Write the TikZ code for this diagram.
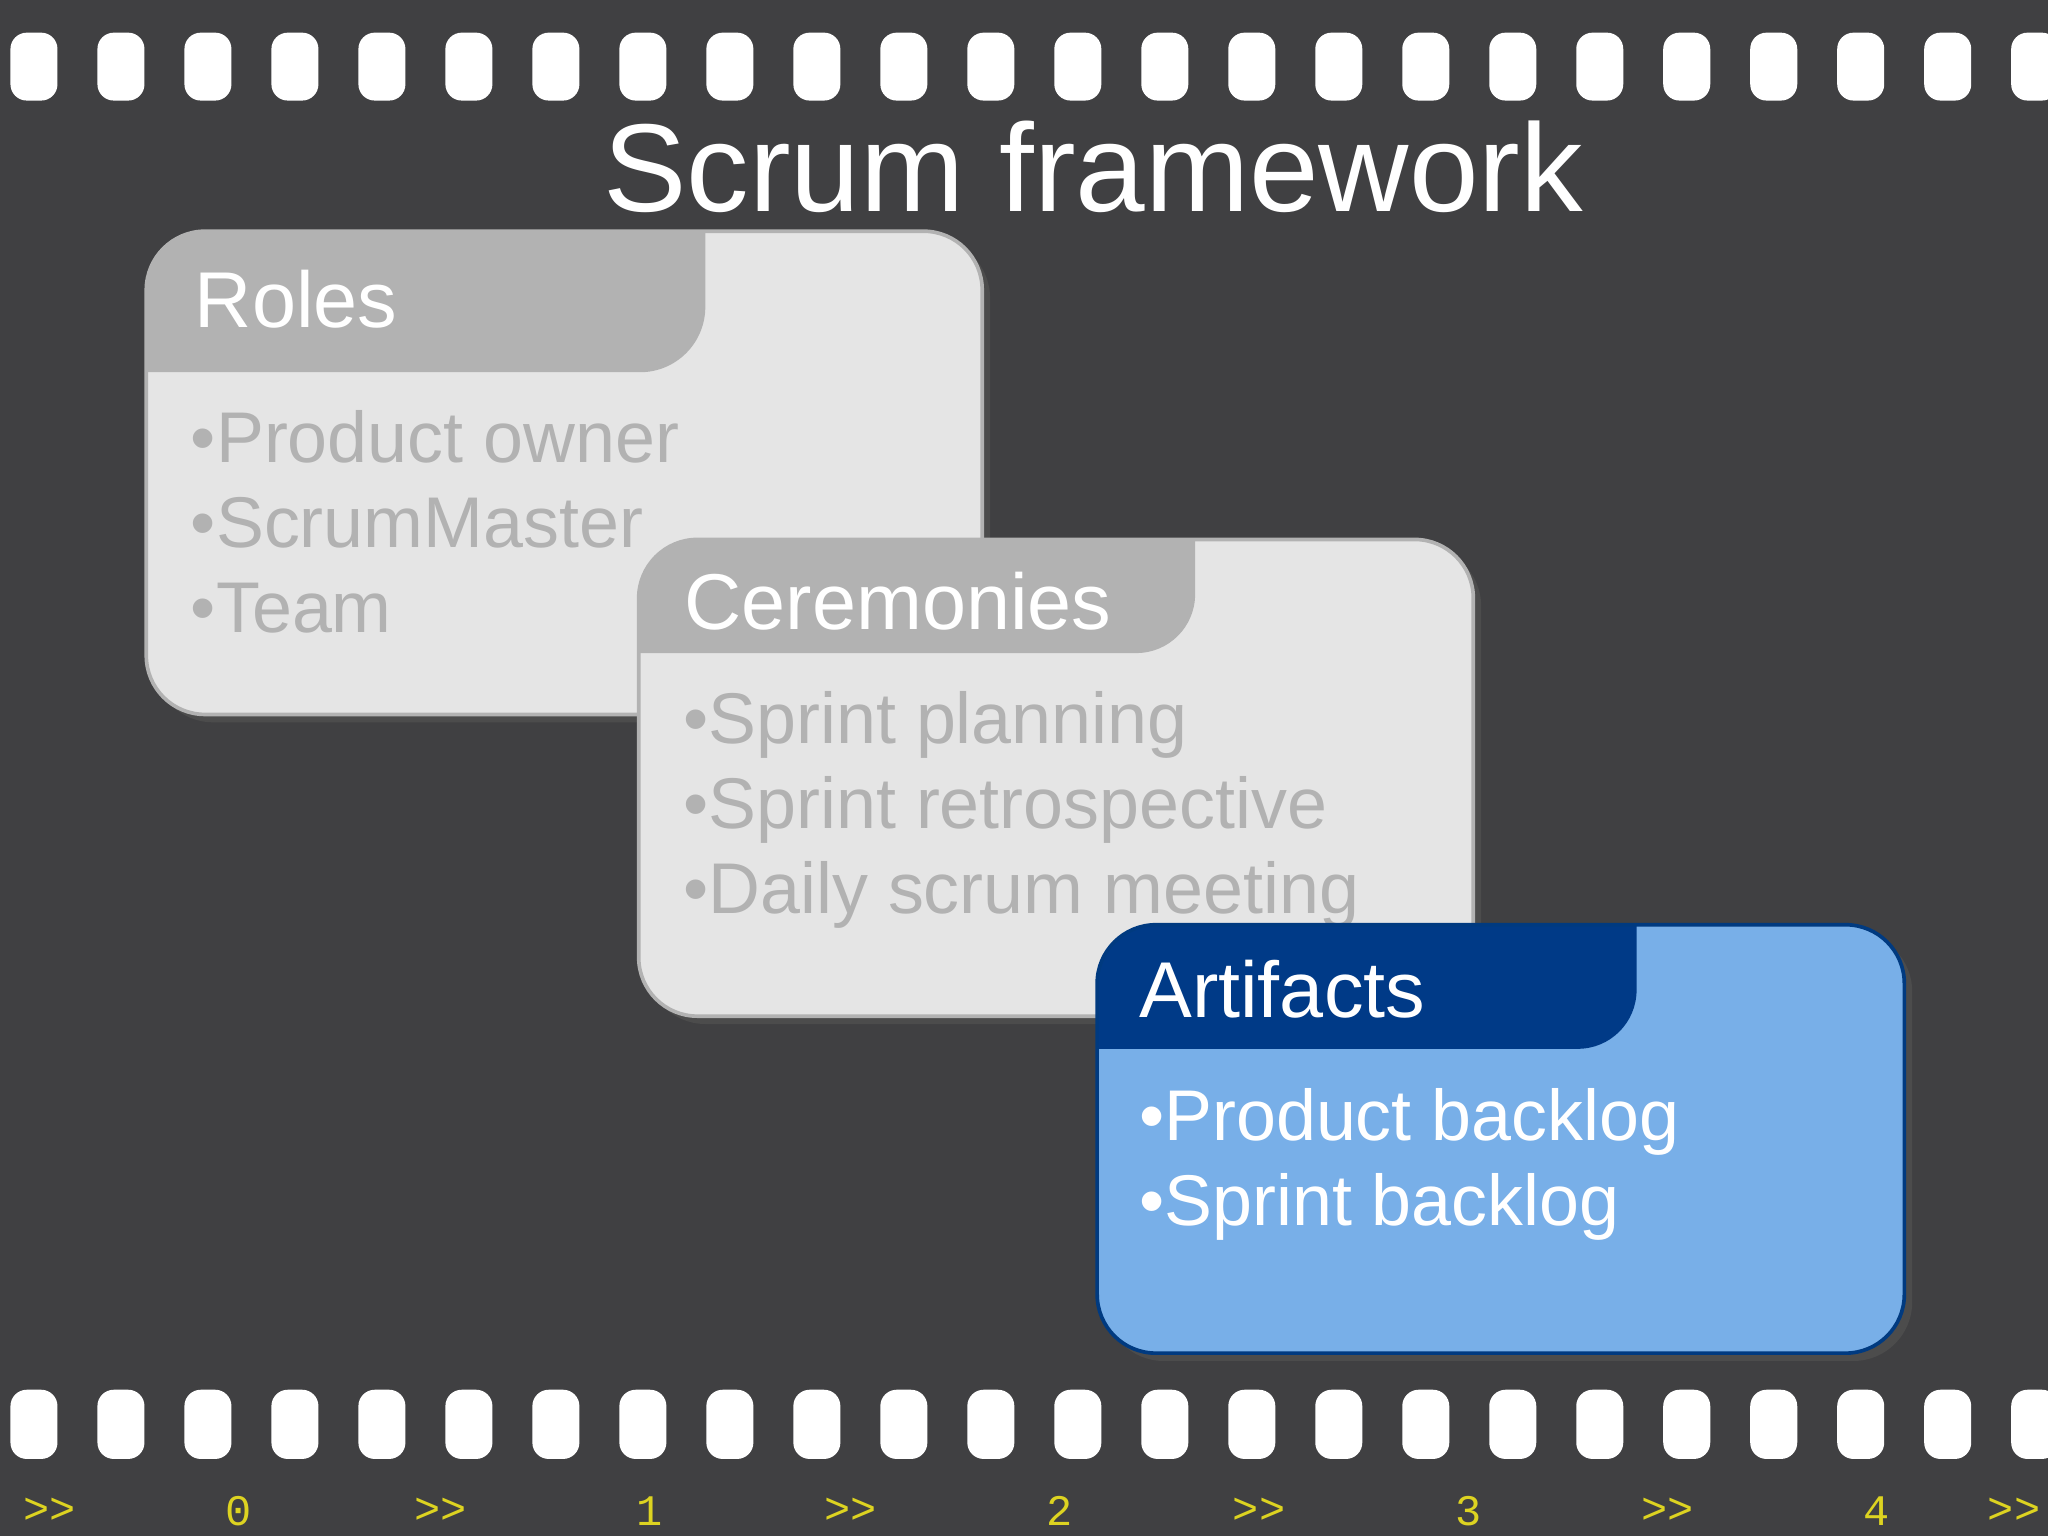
\documentclass[tikz,border=0pt]{standalone}
\usepackage{fontspec}
\setmainfont{Liberation Sans}
\newfontfamily\monof{Liberation Mono}
\begin{document}
\begin{tikzpicture}[x=0.02cm,y=-0.02cm,
  hole/.style={fill=white,rounded corners=0.25cm},
  card/.style={rounded corners=0.9cm,line width=1.6pt},
  hdr/.style={text=white,anchor=west,font=\fontsize{34.5}{34.5}\selectfont},
  item/.style={anchor=north west,align=left,font=\fontsize{31.3}{37}\selectfont},
  num/.style={text=yellow!85!black,font=\monof\fontsize{19}{19}\selectfont}]
\fill[fill={rgb,255:red,64;green,64;blue,66}] (0,0) rectangle (1568,1176);
\useasboundingbox (0,0) rectangle (1568,1176);
\foreach \i in {0,...,23}{
  \fill[hole] (8+66.6*\i,25) rectangle ++(36,52);
  \fill[hole] (8+66.6*\i,1064) rectangle ++(36,53);
}
\node[text=white,font=\fontsize{54.5}{54.5}\selectfont] (title) at (837,128) {Scrum framework};
% Roles
\fill[black!70,card] (118,183) rectangle (758,553);
\fill[gray!20,card] (112,177) rectangle (752,547);
\begin{scope}
\path[clip,rounded corners=0.9cm] (112,177) rectangle (752,547);
\fill[gray!60] (112,177) -- (540,177) -- (540,235) arc[start angle=0,end angle=-90,radius=1cm] -- (112,285) -- cycle;
\end{scope}
\draw[gray!60,card] (112,177) rectangle (752,547);
\node[hdr] (roles) at (143,229) {Roles};
\node[item,text=gray!60] (rl) at (140,308) {•Product owner\\•ScrumMaster\\•Team};
% Ceremonies
\fill[black!70,card] (495,419) rectangle (1134,784);
\fill[gray!20,card] (489,413) rectangle (1128,778);
\begin{scope}
\path[clip,rounded corners=0.9cm] (489,413) rectangle (1128,778);
\fill[gray!60] (489,413) -- (915,413) -- (915,455) arc[start angle=0,end angle=-90,radius=0.9cm] -- (489,500) -- cycle;
\end{scope}
\draw[gray!60,card] (489,413) rectangle (1128,778);
\node[hdr] (cer) at (518,460) {Ceremonies};
\node[item,text=gray!60] (cl) at (517,523) {•Sprint planning\\•Sprint retrospective\\•Daily scrum meeting};
% Artifacts
\fill[black!70,card] (846,714) rectangle (1464,1042);
\fill[fill={rgb,255:red,120;green,175;blue,232},card] (840,708) rectangle (1458,1036);
\begin{scope}
\path[clip,rounded corners=0.9cm] (840,708) rectangle (1458,1036);
\fill[fill={rgb,255:red,0;green,58;blue,135}] (840,708) -- (1253,708) -- (1253,758) arc[start angle=0,end angle=-90,radius=0.9cm] -- (840,803) -- cycle;
\end{scope}
\draw[draw={rgb,255:red,0;green,58;blue,128},card] (840,708) rectangle (1458,1036);
\node[hdr] (art) at (866,757) {Artifacts};
\node[item,text=white] (al) at (866,827) {•Product backlog\\•Sprint backlog};
% numbers
\foreach \x/\t in {38/{>>},183/0,337/{>>},497/1,651/{>>},811/2,964/{>>},1124/3,1277/{>>},1437/4,1542/{>>}}
  \node[num] at (\x,1157) {\t};
\end{tikzpicture}
\end{document}
